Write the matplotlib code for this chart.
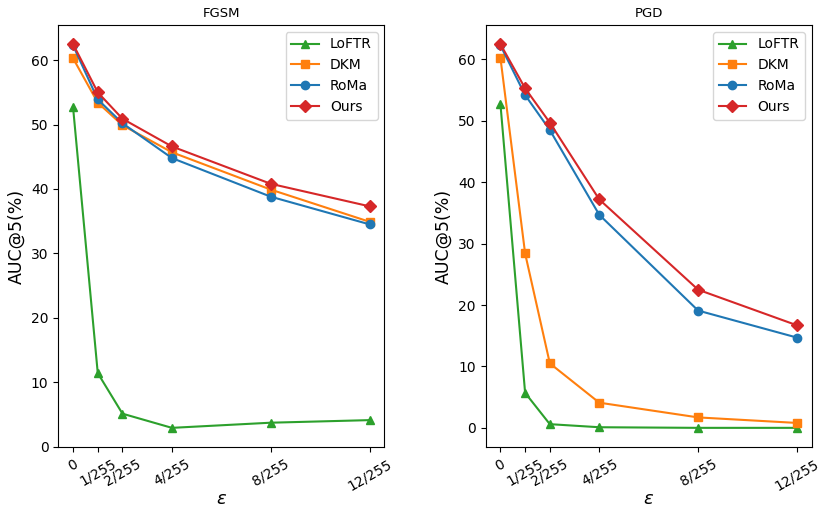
import matplotlib
matplotlib.use('Agg')
import matplotlib.pyplot as plt

# epsilon values (in units of 1/255)
eps = [0, 1, 2, 4, 8, 12]
eps_labels = ['0', '1/255', '2/255', '4/255', '8/255', '12/255']

# FGSM results
fgsm_loftr = [52.7, 11.4, 5.1, 2.9, 3.7, 4.1]
fgsm_dkm = [60.3, 53.4, 49.9, 45.7, 39.9, 34.9]
fgsm_roma = [62.3, 53.9, 50.2, 44.8, 38.8, 34.5]
fgsm_ours = [62.5, 55.0, 50.9, 46.6, 40.8, 37.3]

# PGD results
pgd_loftr = [52.8, 5.7, 0.6, 0.1, 0.0, 0.0]
pgd_dkm = [60.3, 28.4, 10.5, 4.1, 1.7, 0.8]
pgd_roma = [62.3, 54.2, 48.5, 34.7, 19.1, 14.7]
pgd_ours = [62.5, 55.3, 49.7, 37.2, 22.5, 16.7]

fig, axes = plt.subplots(1, 2, figsize=(8.2, 5.08), dpi=100)
plt.subplots_adjust(left=0.071, right=0.99, top=0.951, bottom=0.12, wspace=0.31)

panels = [
    ('FGSM', fgsm_loftr, fgsm_dkm, fgsm_roma, fgsm_ours),
    ('PGD', pgd_loftr, pgd_dkm, pgd_roma, pgd_ours),
]

for ax, (title, loftr, dkm, roma, ours) in zip(axes, panels):
    ax.plot(eps, loftr, color='tab:green', marker='^', label='LoFTR')
    ax.plot(eps, dkm, color='tab:orange', marker='s', label='DKM')
    ax.plot(eps, roma, color='tab:blue', marker='o', label='RoMa')
    ax.plot(eps, ours, color='tab:red', marker='D', label='Ours')
    ax.set_title(title, fontsize=9.5)
    ax.set_xticks(eps)
    ax.set_xticklabels(eps_labels, rotation=30, fontsize=10)
    ax.tick_params(axis='y', labelsize=10)
    ax.set_xlabel(r'$\epsilon$', fontsize=13, labelpad=-2)
    ax.set_ylabel('AUC@5(%)', fontsize=12.5)
    ax.legend(loc='upper right', fontsize=10)

plt.savefig('out.png', dpi=100)
